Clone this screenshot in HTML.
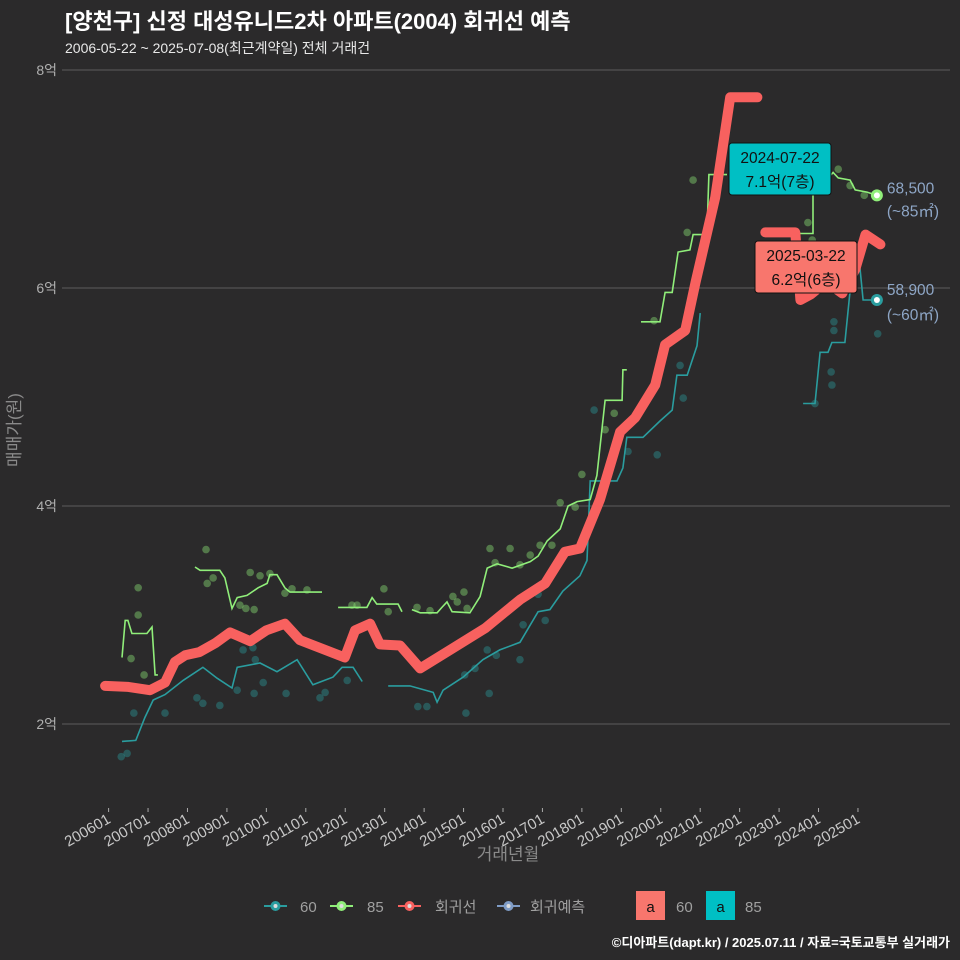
<!DOCTYPE html>
<html><head><meta charset="utf-8">
<style>
html,body{margin:0;padding:0;background:#2b2a2b;}
svg{display:block;font-family:"Liberation Sans","Noto Sans CJK KR",sans-serif;}
</style></head>
<body>
<svg id="chart" width="960" height="960" viewBox="0 0 960 960">
<rect x="0" y="0" width="960" height="960" fill="#2b2a2b"/>
<text x="65" y="29" fill="#ffffff" font-size="22" font-weight="bold">[양천구] 신정 대성유니드2차 아파트(2004) 회귀선 예측</text>
<text x="65" y="53" fill="#e8e8e8" font-size="14">2006-05-22 ~ 2025-07-08(최근계약일) 전체 거래건</text>
<g id="grid"></g>
<g id="marks"></g>
<text x="20" y="430" fill="#8a8a8a" font-size="17" transform="rotate(-90 20 430)" text-anchor="middle">매매가(원)</text>
<text x="508" y="860" fill="#8a8a8a" font-size="17" text-anchor="middle">거래년월</text>
<g font-size="15" fill="#a0a0a0">
 <g><line x1="264" y1="906" x2="287" y2="906" stroke="#2a9d9f" stroke-width="2"/><circle cx="275.5" cy="906" r="5" fill="#2a9d9f"/><circle cx="275.5" cy="906" r="2" fill="#ddd"/><text x="300" y="912">60</text></g>
 <g><line x1="330" y1="906" x2="353" y2="906" stroke="#90ee7a" stroke-width="2"/><circle cx="341.5" cy="906" r="5" fill="#90ee7a"/><circle cx="341.5" cy="906" r="2" fill="#ddd"/><text x="367" y="912">85</text></g>
 <g><line x1="398" y1="906" x2="421" y2="906" stroke="#f8615f" stroke-width="2"/><circle cx="409.5" cy="906" r="5" fill="#f8615f"/><circle cx="409.5" cy="906" r="2" fill="#ddd"/><text x="435" y="912">회귀선</text></g>
 <g><line x1="497" y1="906" x2="520" y2="906" stroke="#7f9cc6" stroke-width="2"/><circle cx="508.5" cy="906" r="5" fill="#7f9cc6"/><circle cx="508.5" cy="906" r="2" fill="#ddd"/><text x="530" y="912">회귀예측</text></g>
 <g><rect x="636" y="891" width="29" height="29" fill="#f8766d"/><text x="650.5" y="912" fill="#111" text-anchor="middle">a</text><text x="676" y="912">60</text></g>
 <g><rect x="706" y="891" width="29" height="29" fill="#00bfc4"/><text x="720.5" y="912" fill="#111" text-anchor="middle">a</text><text x="745" y="912">85</text></g>
</g>
<text x="950" y="947" fill="#ffffff" font-size="13" font-weight="bold" text-anchor="end">©디아파트(dapt.kr) / 2025.07.11 / 자료=국토교통부 실거래가</text>
</svg>
<script>
const yTicks=[2,4,6,8];
const xTickLabels=['200601','200701','200801','200901','201001','201101','201201','201301','201401','201501','201601','201701','201801','201901','202001','202101','202201','202301','202401','202501'];
const regYears=[2005.91,2006.5,2007.05,2007.43,2007.68,2007.94,2008.3,2008.7,2009.08,2009.59,2010.0,2010.47,2010.85,2011.49,2011.99,2012.25,2012.63,2012.88,2013.39,2013.9,2014.66,2015.55,2016.43,2017.07,2017.57,2017.95,2018.46,2018.97,2019.35,2019.86,2020.11,2020.62,2020.88,2021.38,2021.76,2022.45,null,2022.65,2023.41,2023.54,2023.8,2024.0,2024.3,2024.6,2024.93,2025.19,2025.57];
const regValues=[2.35,2.34,2.31,2.38,2.57,2.63,2.66,2.74,2.84,2.76,2.86,2.92,2.77,2.68,2.61,2.86,2.92,2.73,2.72,2.51,2.68,2.88,3.14,3.29,3.58,3.61,4.06,4.68,4.81,5.11,5.48,5.61,6.05,6.83,7.75,7.75,null,6.51,6.51,5.89,5.94,6.0,6.03,5.95,6.17,6.49,6.4];
const g85Years=[2006.34,2006.42,2006.49,2006.59,2006.97,2007.10,2007.18,2007.25,null,2008.19,2008.32,2008.82,2008.95,2009.13,2009.26,2009.51,2009.79,2010.02,2010.09,2010.27,2010.47,2010.60,2011.41,null,2011.82,2012.55,2012.68,2012.80,2013.34,2013.44,null,2013.69,2013.90,2014.33,2014.45,2014.58,2014.71,2015.16,2015.42,2015.60,2015.85,2016.23,2016.69,2016.89,2017.12,2017.45,2017.65,2017.88,2018.21,2018.38,2018.59,2019.02,2019.04,2019.14,null,2019.50,2019.98,2020.11,2020.29,2020.44,2020.74,2020.82,2021.17,2021.22,2021.68,null,2023.20,2023.86,2023.86,2024.37,2024.50,2024.80,2024.93,2025.23,2025.48];
const g85Values=[2.61,2.95,2.95,2.83,2.83,2.89,2.45,2.45,null,3.44,3.41,3.41,3.34,3.06,3.16,3.18,3.25,3.29,3.37,3.37,3.25,3.21,3.21,null,3.07,3.07,3.16,3.10,3.10,3.03,null,3.05,3.02,3.02,3.07,3.12,3.03,3.02,3.17,3.43,3.47,3.43,3.49,3.54,3.68,3.79,4.0,4.04,4.06,4.28,4.97,4.97,5.25,5.25,null,5.69,5.69,5.96,5.96,6.33,6.35,6.49,6.49,7.04,7.04,null,6.50,6.50,6.85,7.06,7.01,6.99,6.90,6.88,6.85];
const g60Years=[2006.34,2006.69,2006.92,2007.13,2007.43,2007.89,2008.39,2008.75,2009.13,2009.26,2009.84,2010.27,2010.78,2011.18,2011.69,2011.92,2012.20,2012.43,null,2013.09,2013.64,2014.23,2014.33,2014.48,2014.99,2015.49,2015.92,2016.43,2016.89,2017.19,2017.52,2017.95,2018.13,2018.21,2018.89,2019.04,2019.14,2019.55,2019.98,2020.29,2020.41,2020.67,2020.92,2021.0,null,2023.61,2023.91,2024.04,2024.24,2024.34,2024.67,2024.79,2025.05,2025.13,2025.48];
const g60Values=[1.84,1.85,2.06,2.22,2.27,2.40,2.52,2.42,2.33,2.52,2.56,2.48,2.59,2.36,2.43,2.52,2.52,2.39,null,2.35,2.35,2.29,2.20,2.31,2.43,2.59,2.68,2.75,3.03,3.05,3.22,3.36,3.50,4.23,4.23,4.35,4.63,4.63,4.78,4.88,5.20,5.20,5.47,5.77,null,4.94,4.94,5.41,5.41,5.50,5.50,5.94,6.19,5.89,5.89];
const dot85Years=[2006.75,2006.75,2006.57,2006.90,2008.47,2008.50,2008.65,2009.59,2009.84,2010.09,2010.65,2010.47,2011.03,2009.48,2009.69,2009.33,2012.98,2013.09,2012.17,2012.30,2013.82,2014.15,2014.73,2014.84,2015.01,2015.09,2015.67,2015.80,2016.18,2016.43,2016.69,2016.94,2017.24,2017.45,2017.83,2018.0,2018.59,2018.82,2019.83,2020.67,2020.82,2023.73,2023.84,2024.50,2024.80,2025.16];
const dot85Values=[3.25,3.0,2.6,2.45,3.6,3.29,3.34,3.39,3.36,3.38,3.24,3.2,3.23,3.06,3.05,3.09,3.24,3.03,3.09,3.09,3.07,3.04,3.17,3.12,3.21,3.06,3.61,3.48,3.61,3.46,3.55,3.64,3.64,4.03,3.99,4.29,4.70,4.85,5.70,6.51,6.99,6.60,6.44,7.09,6.94,6.85];
const dot60Years=[2006.32,2006.47,2006.64,2007.43,2008.24,2008.39,2008.82,2009.26,2009.69,2009.92,2010.50,2011.36,2011.49,2009.41,2009.66,2009.72,2012.05,2013.84,2014.07,2015.06,2015.03,2015.29,2015.60,2015.65,2015.83,2016.43,2016.51,2016.89,2017.07,2017.45,2018.31,2019.17,2019.91,2020.49,2020.57,2023.91,2024.32,2024.34,2024.39,2024.39,2025.50];
const dot60Values=[1.70,1.73,2.1,2.1,2.24,2.19,2.17,2.31,2.28,2.38,2.28,2.24,2.29,2.68,2.70,2.59,2.40,2.16,2.16,2.1,2.45,2.51,2.68,2.28,2.63,2.59,2.91,3.19,2.95,3.50,4.88,4.50,4.47,5.29,4.99,4.94,5.23,5.11,5.69,5.61,5.58];
const last85=6.85, last60=5.89, lastYear=2025.48;

const NS='http://www.w3.org/2000/svg';
function xS(t){return 108.6+(t-2006)*39.44;}
function yS(v){return 724-(v-2)*109;}
function mk(tag,attrs,parent){const e=document.createElementNS(NS,tag);for(const k in attrs)e.setAttribute(k,attrs[k]);parent.appendChild(e);return e;}
const grid=document.getElementById('grid'), marks=document.getElementById('marks');
yTicks.forEach(v=>{
  const l=mk('line',{x1:62,x2:950,y1:yS(v),y2:yS(v),stroke:'#5c5c5c','stroke-width':1},grid);
  
  
  const t=mk('text',{x:57,y:yS(v)+5,fill:'#b0b0b0','font-size':14,'text-anchor':'end'},grid);
  t.textContent=v+'억';
  
  
});
xTickLabels.forEach((s,i)=>{
  const yr=+s.slice(0,4);const x=xS(yr);
  const tk=mk('line',{x1:x,x2:x,y1:808,y2:812,stroke:'#aaa'},grid);
  
  
  const t=mk('text',{x:x+3,y:822,fill:'#c8c8c8','font-size':15,'text-anchor':'end',transform:'rotate(-30 '+(x+3)+' 822)'},grid);
  t.textContent=s;
  
  
});
function pathD(xs,vs){let d='',pen=false;for(let i=0;i<xs.length;i++){if(xs[i]===null){pen=false;continue;}d+=(pen?'L':'M')+xS(xs[i]).toFixed(1)+' '+yS(vs[i]).toFixed(1);pen=true;}return d;}
function dots(xs,vs,col,name){xs.forEach((t,i)=>{const c=mk('circle',{cx:xS(t),cy:yS(vs[i]),r:3.8,fill:col,'fill-opacity':0.4},marks);});}
dots(dot60Years,dot60Values,'#2a9d9f','dot-60');
dots(dot85Years,dot85Values,'#90ee7a','dot-85');
const p60=mk('path',{d:pathD(g60Years,g60Values),fill:'none',stroke:'#2a9d9f','stroke-width':1.6},marks);


const p85=mk('path',{d:pathD(g85Years,g85Values),fill:'none',stroke:'#90ee7a','stroke-width':1.6},marks);


const pr=mk('path',{d:pathD(regYears,regValues),fill:'none',stroke:'#f8615f','stroke-width':10,'stroke-linecap':'round','stroke-linejoin':'round'},marks);


[[last85,'#90ee7a','end-dot-85'],[last60,'#2a9d9f','end-dot-60']].forEach(a=>{
  const c=mk('circle',{cx:xS(lastYear),cy:yS(a[0]),r:6,fill:a[1]},marks);
  
  
  mk('circle',{cx:xS(lastYear),cy:yS(a[0]),r:3,fill:'#ffffff'},marks);
});
function lbl(y,txt,name){const t=mk('text',{x:xS(lastYear)+10,y:y,fill:'#8ea6c6','font-size':15.5},marks);t.textContent=txt;}
lbl(yS(last85)-2,'68,500','end-value-85');lbl(yS(last85)+21,'(~85㎡)','end-area-85');
lbl(yS(last60)-5,'58,900','end-value-60');lbl(yS(last60)+20,'(~60㎡)','end-area-60');
function box(x,y,w,h,fill,l1,l2,name){const g=mk('g',{},marks);
 mk('rect',{x:x,y:y,width:w,height:h,rx:3,fill:fill,stroke:'#111','stroke-width':1},g);
 const a=mk('text',{x:x+w/2,y:y+20,'text-anchor':'middle','font-size':15.5,fill:'#111'},g);a.textContent=l1;
 const b=mk('text',{x:x+w/2,y:y+44,'text-anchor':'middle','font-size':15.5,fill:'#111'},g);b.textContent=l2;}
box(729,143,102,52,'#00bfc4','2024-07-22','7.1억(7층)','annotation-85');
box(755,241,102,52,'#f8766d','2025-03-22','6.2억(6층)','annotation-60');
</script>
</body></html>
